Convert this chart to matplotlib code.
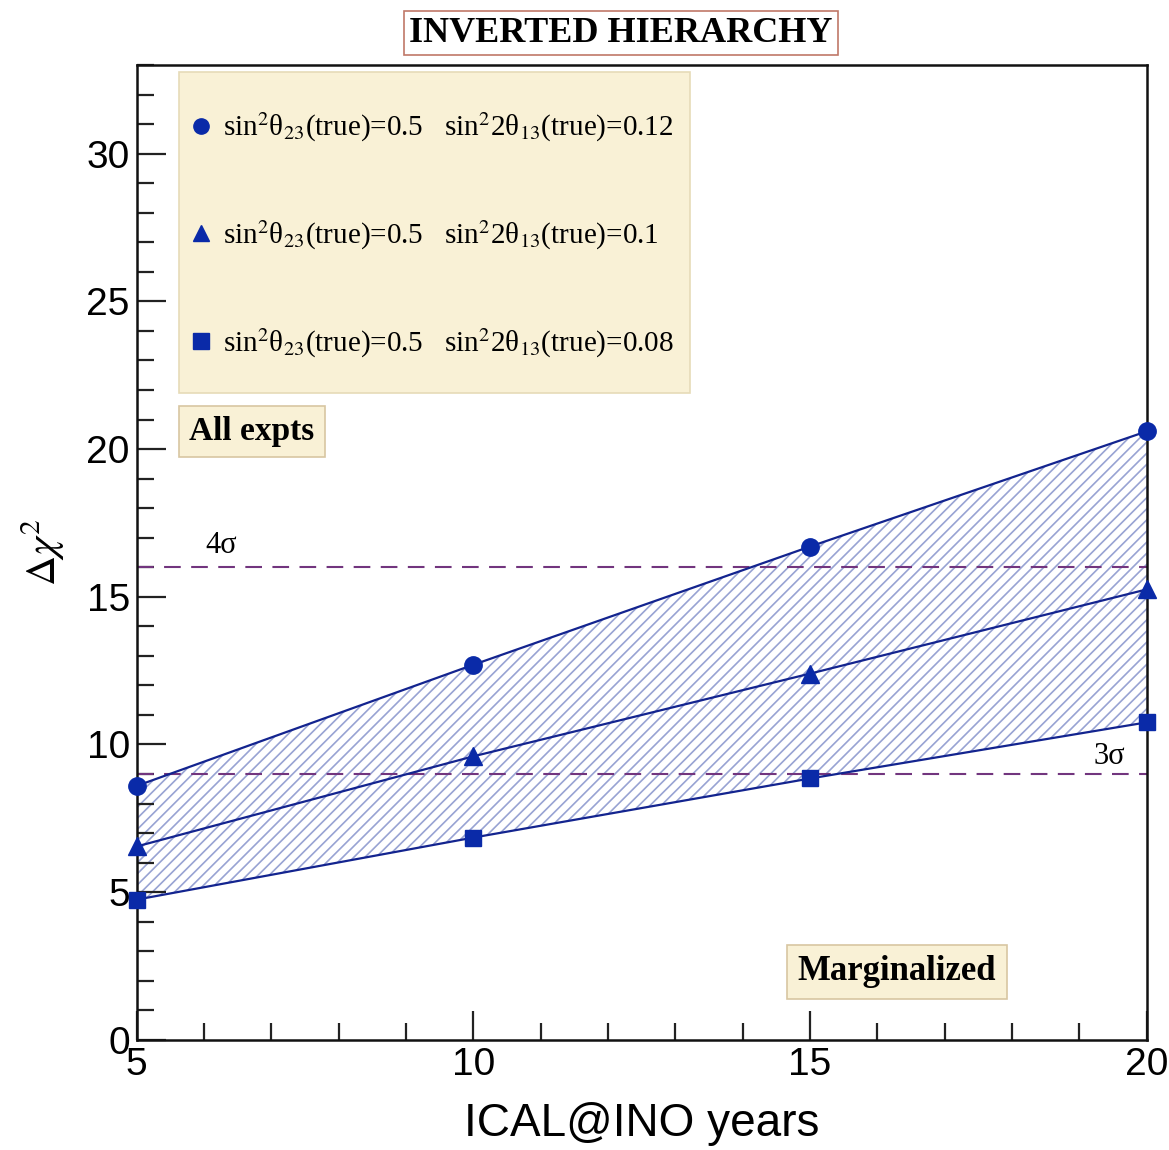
import numpy as np
import matplotlib.pyplot as plt
from matplotlib.lines import Line2D
from matplotlib.patches import Rectangle

plt.rcParams['mathtext.fontset'] = 'stix'
plt.rcParams['hatch.linewidth'] = 1.2
plt.rcParams['hatch.color'] = '#98a3d3'

# data
years = [5, 10, 15, 20]
chi2_012 = [8.6, 12.7, 16.7, 20.6]   # sin^2 2theta13 = 0.12 (circles)
chi2_010 = [6.55, 9.6, 12.4, 15.25]  # sin^2 2theta13 = 0.1 (triangles)
chi2_008 = [4.75, 6.85, 8.85, 10.75] # sin^2 2theta13 = 0.08 (squares)
labels = ['sin$^2$θ$_{23}$(true)=0.5   sin$^2$2θ$_{13}$(true)=0.12',
          'sin$^2$θ$_{23}$(true)=0.5   sin$^2$2θ$_{13}$(true)=0.1',
          'sin$^2$θ$_{23}$(true)=0.5   sin$^2$2θ$_{13}$(true)=0.08']
sigma_levels = [16, 9]
sigma_labels = ['4σ', '3σ']

line_col = '#13248f'
mark_col = '#0a2aa8'
cream = '#f9f1d6'
serif = 'Liberation Serif'
sans = 'Liberation Sans'

fig = plt.figure(figsize=(11.69, 11.50), dpi=100)
ax = fig.add_axes([0.117, 0.0957, 0.864, 0.8478])

# hatched band between the extreme curves
ax.fill_between(years, chi2_008, chi2_012, facecolor='none', edgecolor='#98a3d3',
                hatch='///', linewidth=0, zorder=1)

# sigma lines
for lev in sigma_levels:
    ax.axhline(lev, color='#72357e', linestyle=(0, (8, 5)), linewidth=1.5, zorder=2)
ax.text(6.26, 16.75, sigma_labels[0], fontsize=22, family=serif, ha='center', va='center')
ax.text(19.45, 9.6, sigma_labels[1], fontsize=22, family=serif, ha='center', va='center')

ax.plot(years, chi2_012, '-', color=line_col, lw=1.6, marker='o', ms=12.5, mfc=mark_col, mec=mark_col, zorder=3, clip_on=False)
ax.plot(years, chi2_010, '-', color=line_col, lw=1.6, marker='^', ms=12.5, mfc=mark_col, mec=mark_col, zorder=3, clip_on=False)
ax.plot(years, chi2_008, '-', color=line_col, lw=1.6, marker='s', ms=12, mfc=mark_col, mec=mark_col, zorder=3, clip_on=False)

ax.set_xlim(5, 20)
ax.set_ylim(0, 33)
ax.set_xticks([5, 10, 15, 20])
ax.set_xticks(np.arange(5, 21, 1), minor=True)
ax.set_yticks([0, 5, 10, 15, 20, 25, 30])
ax.set_yticks(np.arange(0, 34, 1), minor=True)
ax.tick_params(which='both', direction='in', top=False, right=False, width=1.6, color='#222222')
ax.tick_params(which='major', length=21, labelsize=28, pad=5)
ax.tick_params(which='minor', length=12)
for lab in ax.get_xticklabels() + ax.get_yticklabels():
    lab.set_family(sans)
for sp in ax.spines.values():
    sp.set_linewidth(1.8)
    sp.set_color('#111111')

ax.set_xlabel('ICAL@INO years', fontsize=33, family=sans, labelpad=14)
ax.set_ylabel(r'$\Delta\chi^2$', fontsize=30, labelpad=14)

# legend: cream panel drawn separately, entries on top of it
ax.add_patch(Rectangle((0.0416, 0.664), 0.506, 0.329, transform=ax.transAxes,
                       facecolor=cream, edgecolor='#e6dbb8', linewidth=1.2, zorder=4))
handles = [Line2D([], [], linestyle='none', marker=m, color=mark_col, ms=11) for m in ['o', '^', 's']]
leg = ax.legend(handles, labels, loc='upper left', bbox_to_anchor=(0.0554, 0.953),
                prop={'family': serif, 'size': 21}, labelspacing=2.55, borderpad=0,
                handlelength=0.6, handletextpad=0.45, borderaxespad=0, frameon=False)
leg.set_zorder(5)

box = dict(boxstyle='square,pad=0.3', facecolor=cream, edgecolor='#d8c6a2', linewidth=1.2)
ax.text(5.78, 20.6, 'All expts', fontsize=24, family=serif, fontweight='bold', va='center', bbox=box)
ax.text(16.29, 2.3, 'Marginalized', fontsize=25, family=serif, fontweight='bold',
        ha='center', va='center', bbox=box)

fig.text(0.531, 0.971, 'INVERTED HIERARCHY', fontsize=26, family=serif, fontweight='bold',
         ha='center', va='center',
         bbox=dict(boxstyle='square,pad=0.15', facecolor='white', edgecolor='#c07868', linewidth=1.2))

fig.savefig('out.png', dpi=100)
